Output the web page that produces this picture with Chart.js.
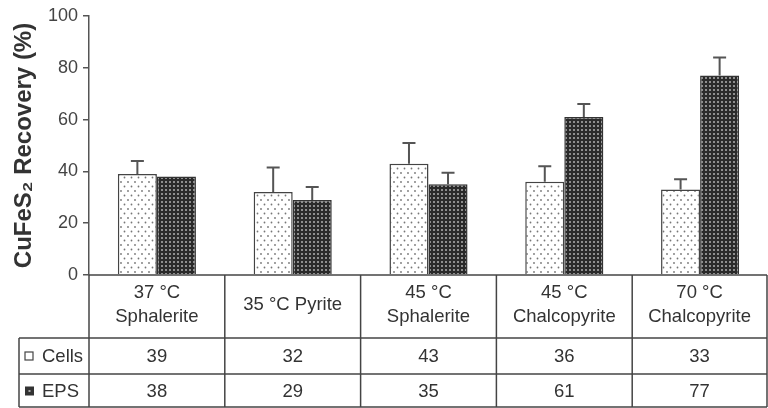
<!DOCTYPE html>
<html><head><meta charset="utf-8">
<script src="https://cdn.jsdelivr.net/npm/chart.js@4"></script>
<style>html,body{margin:0;padding:0;background:#fff}#wrap{width:768px;height:408px}</style>
</head><body><div id="wrap"><canvas id="c" width="768" height="408"></canvas></div>
<script>
const categories = [["37 °C","Sphalerite"],["35 °C Pyrite"],["45 °C","Sphalerite"],["45 °C","Chalcopyrite"],["70 °C","Chalcopyrite"]];
const seriesNames = ["Cells","EPS"];
const cellsValues = [39,32,43,36,33];
const epsValues = [38,29,35,61,77];
const cellsErrors = [5,9.5,8,6,4];
const epsErrors = [0,5,4.5,5,7];
const yTickValues = [0,20,40,60,80,100];
const yTitle = "CuFeS\u2082 Recovery (%)";

function makePattern(bg, dot, w, h, dots, r){
  const c=document.createElement('canvas'); c.width=w; c.height=h;
  const g=c.getContext('2d'); g.fillStyle=bg; g.fillRect(0,0,w,h);
  g.fillStyle=dot;
  dots.forEach(p=>{g.beginPath(); g.arc(p[0],p[1],r,0,Math.PI*2); g.fill();});
  return g.createPattern(c,'repeat');
}
const cellsFill = makePattern('#ffffff','#777777',7,9,[[2,2],[5.5,6.5]],0.9);
const epsFill = makePattern('#2a2a2a','#b0b0b0',4,4,[[2,2]],1.0);
const errors=[cellsErrors, epsErrors];
const FONT="'Liberation Sans', Arial, sans-serif";

const errorBarPlugin={
  id:'errbars',
  afterDatasetsDraw(chart){
    const ctx=chart.ctx, y=chart.scales.y;
    ctx.save(); ctx.strokeStyle='#555'; ctx.lineWidth=2;
    chart.data.datasets.forEach((ds,di)=>{
      const meta=chart.getDatasetMeta(di);
      meta.data.forEach((bar,i)=>{
        const e=errors[di][i]; if(!e) return;
        const top=y.getPixelForValue(ds.data[i]+e);
        ctx.beginPath(); ctx.moveTo(bar.x,bar.y); ctx.lineTo(bar.x,top);
        ctx.moveTo(bar.x-6.5,top); ctx.lineTo(bar.x+6.5,top); ctx.stroke();
      });
    });
    ctx.restore();
  }
};

const tablePlugin={
  id:'table',
  afterDraw(chart){
    const ctx=chart.ctx, x=chart.scales.x, a=chart.chartArea, n=categories.length;
    const b=[];
    for(let i=0;i<=n;i++){
      if(i===0) b.push(a.left); else if(i===n) b.push(a.right-1);
      else b.push((x.getPixelForValue(i-1)+x.getPixelForValue(i))/2);
    }
    const top=a.bottom, hdrB=top+63, r1B=hdrB+36, r2B=r1B+33, leftX=19;
    ctx.save(); ctx.strokeStyle='#444'; ctx.lineWidth=1.5;
    const L=(x1,y1,x2,y2)=>{ctx.beginPath();ctx.moveTo(x1,y1);ctx.lineTo(x2,y2);ctx.stroke();};
    L(a.left,top,b[n],top); L(leftX,hdrB,b[n],hdrB); L(leftX,r1B,b[n],r1B); L(leftX,r2B,b[n],r2B);
    b.forEach(v=>L(v,top,v,r2B)); L(leftX,hdrB,leftX,r2B);
    ctx.fillStyle='#333'; ctx.font='18.5px '+FONT; ctx.textAlign='center'; ctx.textBaseline='middle';
    categories.forEach((lab,i)=>{
      const cx=(b[i]+b[i+1])/2;
      if(lab.length===1) ctx.fillText(lab[0],cx,top+30);
      else { ctx.fillText(lab[0],cx,top+18); ctx.fillText(lab[1],cx,top+42); }
      ctx.fillText(String(cellsValues[i]),cx,(hdrB+r1B)/2+1);
      ctx.fillText(String(epsValues[i]),cx,(r1B+r2B)/2+1);
    });
    ctx.textAlign='left';
    ctx.fillText(seriesNames[0],42,(hdrB+r1B)/2+1);
    ctx.fillText(seriesNames[1],42,(r1B+r2B)/2+1);
    ctx.lineWidth=1.2;
    const s1=(hdrB+r1B)/2;
    ctx.fillStyle='#fff'; ctx.fillRect(25,s1-4,8,8); ctx.strokeRect(25,s1-4,8,8);
    const s2=(r1B+r2B)/2;
    ctx.fillStyle='#333'; ctx.fillRect(25,s2-4,9,9);
    ctx.fillStyle='#aaa'; ctx.fillRect(28.5,s2-0.5,2,2);
    ctx.restore();
  }
};

new Chart(document.getElementById('c'),{
  type:'bar',
  data:{labels:categories.map(c=>c.join(' ')),
    datasets:[
      {label:seriesNames[0],data:cellsValues,backgroundColor:cellsFill,borderColor:'#444',borderWidth:1.5},
      {label:seriesNames[1],data:epsValues,backgroundColor:epsFill,borderColor:'#333',borderWidth:1.5}
    ]},
  options:{
    responsive:false, animation:false, devicePixelRatio:1,
    layout:{padding:{top:16,bottom:133,left:0,right:0}},
    datasets:{bar:{categoryPercentage:0.575,barPercentage:1}},
    plugins:{legend:{display:false},tooltip:{enabled:false}},
    scales:{
      x:{display:false},
      y:{min:0,max:100,
        afterFit(s){s.width=89;},
        afterBuildTicks(s){s.ticks=yTickValues.map(v=>({value:v}));},
        ticks:{color:'#444',font:{family:FONT,size:18},padding:5},
        grid:{drawOnChartArea:false,drawTicks:true,tickLength:6,color:'#555',lineWidth:1.5},
        border:{display:true,color:'#555',width:1.5},
        title:{display:true,text:yTitle,color:'#333',font:{family:FONT,size:24,weight:'bold'},padding:{top:10,bottom:0}}
      }
    }
  },
  plugins:[errorBarPlugin,tablePlugin]
});
</script></body></html>
